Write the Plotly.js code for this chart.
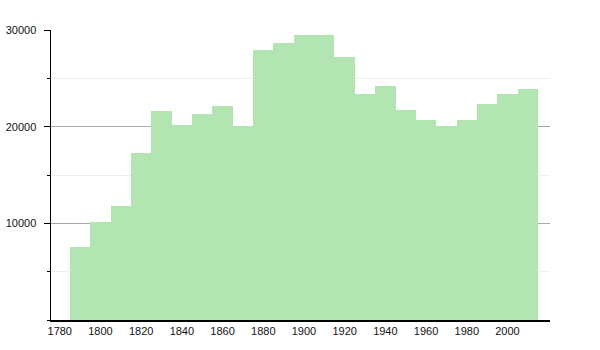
<!DOCTYPE html>
<html>
<head>
<meta charset="utf-8">
<script src="https://cdn.plot.ly/plotly-3.0.1.min.js"></script>
<style>html,body{margin:0;padding:0;background:#fff;}#chart{width:600px;height:350px;}</style>
</head>
<body>
<div id="chart"></div>
<script>
const years = [1790,1800,1810,1820,1830,1840,1850,1860,1870,1880,1890,1900,1910,1920,1930,1940,1950,1960,1970,1980,1990,2000,2010];
const population = [7550,10100,11800,17250,21600,20200,21350,22150,20050,27900,28650,29450,29450,27230,23380,24180,21760,20730,20040,20730,22350,23420,23940];
const xTickVals = [1780,1800,1820,1840,1860,1880,1900,1920,1940,1960,1980,2000];
const yTickVals = [10000,20000,30000];

const trace = {
  type: 'bar',
  x: years,
  y: population,
  width: 10,
  marker: {color: '#b3e5b3', line: {width: 0}},
  hoverinfo: 'x+y'
};

const layout = {
  width: 600, height: 350,
  margin: {l: 51, r: 50, t: 30, b: 30, pad: 0},
  paper_bgcolor: '#fff', plot_bgcolor: '#fff',
  font: {family: '"Liberation Sans", Arial, sans-serif', size: 11, color: '#111'},
  showlegend: false,
  bargap: 0,
  xaxis: {
    range: [1775.7, 2020.9],
    tickmode: 'array', tickvals: xTickVals, ticktext: xTickVals.map(String),
    showgrid: false, zeroline: false,
    showline: true, linecolor: '#000', linewidth: 1.5,
    ticks: '', ticklabelstandoff: 0
  },
  yaxis: {
    range: [0, 30000],
    tickmode: 'array', tickvals: yTickVals, ticktext: yTickVals.map(String),
    showgrid: true, gridcolor: '#aaa', gridwidth: 1,
    zeroline: false,
    showline: true, linecolor: '#000', linewidth: 1.5,
    ticks: 'outside', ticklen: 6, tickcolor: '#000', tickwidth: 1,
    ticklabelstandoff: 5,
    minor: {tickmode: 'linear', tick0: 0, dtick: 5000, ticks: 'outside', ticklen: 3, tickcolor: '#000', showgrid: true, gridcolor: '#eee', gridwidth: 1}
  }
};

Plotly.newPlot('chart', [trace], layout, {displayModeBar: false, staticPlot: true});
</script>
</body>
</html>
